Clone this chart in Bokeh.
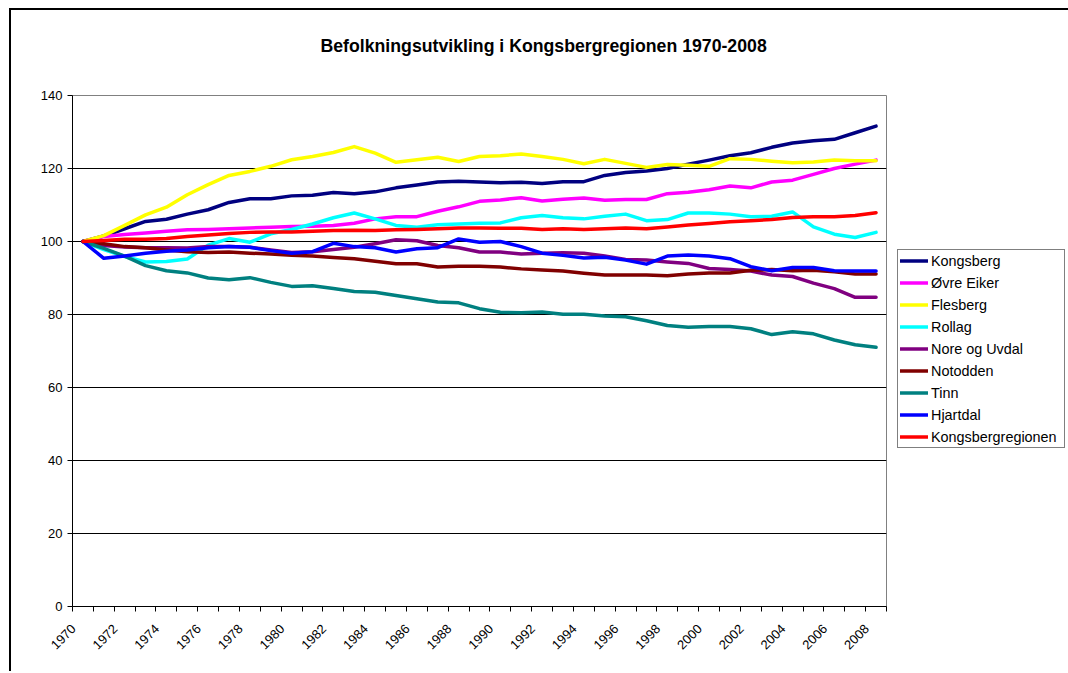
from math import pi
from bokeh.plotting import figure
from bokeh.models import (Range1d, FixedTicker, Legend, LegendItem, InlineStyleSheet,
                          CustomJSTickFormatter)
from bokeh.embed import file_html
from bokeh.resources import INLINE

years = list(range(1970, 2009))

kongsberg = [100, 101.5, 103.5, 105.5, 106.1, 107.5, 108.7, 110.7, 111.7, 111.7,
             112.5, 112.7, 113.4, 113.1, 113.6, 114.7, 115.5, 116.3, 116.5, 116.3,
             116.1, 116.2, 115.9, 116.4, 116.4, 118.1, 118.9, 119.3, 120.0, 121.2,
             122.3, 123.5, 124.3, 125.8, 127.0, 127.6, 128.0, 129.8, 131.6]
ovre_eiker = [100, 101.4, 101.9, 102.3, 102.8, 103.2, 103.3, 103.5, 103.7, 103.9,
              104.1, 104.2, 104.4, 105.0, 106.2, 106.8, 106.8, 108.3, 109.5, 111.0,
              111.4, 112.0, 111.1, 111.6, 111.9, 111.3, 111.5, 111.5, 113.1, 113.5,
              114.2, 115.2, 114.7, 116.3, 116.8, 118.4, 120.0, 121.2, 122.3]
flesberg = [100, 101.6, 104.4, 107.3, 109.4, 112.8, 115.6, 118.1, 119.2, 120.6,
            122.4, 123.3, 124.4, 126.0, 124.2, 121.7, 122.4, 123.1, 121.9, 123.3,
            123.5, 124.0, 123.3, 122.5, 121.3, 122.5, 121.4, 120.3, 121.1, 120.9,
            120.6, 122.7, 122.5, 122.0, 121.6, 121.8, 122.3, 122.1, 122.1]
rollag = [100, 97.8, 95.9, 94.4, 94.5, 95.2, 99.0, 100.8, 99.8, 102.1,
          103.3, 104.8, 106.5, 107.8, 106.2, 104.4, 103.9, 104.6, 104.8, 105.0,
          105.1, 106.5, 107.1, 106.5, 106.2, 106.9, 107.5, 105.7, 106.0, 107.8,
          107.8, 107.5, 106.8, 106.9, 108.1, 104.0, 102.0, 101.1, 102.5]
nore_og_uvdal = [100, 98.9, 98.5, 98.3, 98.3, 98.2, 98.6, 98.6, 98.4, 97.7,
                 97.0, 97.2, 97.8, 98.4, 99.4, 100.5, 100.2, 98.9, 98.3, 97.1,
                 97.1, 96.6, 96.8, 96.9, 96.8, 96.0, 95.1, 94.9, 94.4, 94.0,
                 92.6, 92.3, 91.9, 90.8, 90.4, 88.6, 87.1, 84.7, 84.7]
notodden = [100, 99.4, 98.6, 98.3, 97.7, 97.2, 97.0, 97.1, 96.8, 96.6,
            96.2, 96.0, 95.6, 95.3, 94.6, 93.9, 93.9, 93.0, 93.2, 93.2,
            93.0, 92.5, 92.2, 91.9, 91.3, 90.8, 90.8, 90.8, 90.6, 91.1,
            91.4, 91.4, 92.1, 92.3, 92.0, 92.1, 91.7, 91.1, 91.1]
tinn = [100, 98.1, 96.0, 93.4, 92.0, 91.4, 90.0, 89.5, 90.1, 88.8,
        87.7, 87.9, 87.1, 86.3, 86.1, 85.2, 84.3, 83.4, 83.2, 81.6,
        80.6, 80.5, 80.7, 80.1, 80.1, 79.6, 79.4, 78.3, 77.0, 76.5,
        76.7, 76.7, 76.1, 74.5, 75.3, 74.7, 73.0, 71.7, 71.0]
hjartdal = [100, 95.4, 96.0, 96.8, 97.3, 97.7, 98.3, 98.6, 98.4, 97.5,
            96.8, 97.2, 99.5, 98.6, 98.3, 97.1, 98.0, 98.3, 100.7, 99.8,
            100.0, 98.6, 96.8, 96.2, 95.5, 95.7, 94.9, 93.8, 96.0, 96.3,
            96.0, 95.3, 93.1, 92.0, 92.9, 92.9, 92.0, 91.9, 91.9]
kongsbergregionen = [100, 100.3, 100.6, 100.6, 100.8, 101.4, 101.8, 102.2, 102.5, 102.6,
                     102.6, 102.8, 103.0, 103.1, 103.0, 103.2, 103.3, 103.5, 103.7, 103.7,
                     103.6, 103.6, 103.3, 103.5, 103.3, 103.5, 103.7, 103.5, 104.0, 104.5,
                     104.9, 105.4, 105.7, 106.0, 106.6, 106.8, 106.8, 107.1, 107.9]

series_names = ["Kongsberg", "Øvre Eiker", "Flesberg", "Rollag", "Nore og Uvdal",
                "Notodden", "Tinn", "Hjartdal", "Kongsbergregionen"]
series_values = [kongsberg, ovre_eiker, flesberg, rollag, nore_og_uvdal,
                 notodden, tinn, hjartdal, kongsbergregionen]
series_colors = ["#000080", "#FF00FF", "#FFFF00", "#00FFFF", "#800080",
                 "#800000", "#008080", "#0000FF", "#FF0000"]

y_ticks = [0, 20, 40, 60, 80, 100, 120, 140]
x_label_years = list(range(1970, 2009, 2))
title_text = "Befolkningsutvikling i Kongsbergregionen 1970-2008"

FONT = "Liberation Sans"
LABEL_SHIFT = 0.45   # rotated labels sit slightly left of the category centre (Excel style)

p = figure(frame_width=814, frame_height=511,
           min_border_left=72, min_border_right=180,
           min_border_top=95, min_border_bottom=65,
           x_range=Range1d(years[0] - 0.5, years[-1] + 0.5),
           y_range=Range1d(y_ticks[0], y_ticks[-1]),
           output_backend="svg", toolbar_location=None)

p.outline_line_color = "#808080"
p.outline_line_width = 1
p.background_fill_color = "white"
p.border_fill_color = "white"
p.stylesheets = [InlineStyleSheet(css=(
    ":host { position: relative; }"
    ":host::after { content: ''; position: absolute; left: 9px; top: 8px; right: 6px; bottom: 0px;"
    " border: 2px solid black; border-bottom: none; pointer-events: none; z-index: 50; }"))]

p.title.text = title_text + "\n"
p.title.align = "left"
p.title.offset = 248
p.title.standoff = 40
p.title.text_font = FONT
p.title.text_font_size = "17.7px"
p.title.text_font_style = "bold"
p.title.text_color = "black"

# x axis: category boundaries as tick marks, every other year labelled
xt = FixedTicker(ticks=[y - LABEL_SHIFT for y in x_label_years],
                 minor_ticks=[y - 0.5 for y in years] + [years[-1] + 0.5])
p.xaxis.ticker = xt
p.xaxis.formatter = CustomJSTickFormatter(args=dict(shift=LABEL_SHIFT),
                                          code="return String(Math.round(tick + shift));")
p.xaxis.major_tick_line_color = None
p.xaxis.major_tick_out = 0
p.xaxis.major_tick_in = 0
p.xaxis.minor_tick_line_color = "black"
p.xaxis.minor_tick_out = 5
p.xaxis.minor_tick_in = 0
p.xaxis.axis_line_color = "black"
p.xaxis.major_label_orientation = pi / 4
p.xaxis.major_label_text_font = FONT
p.xaxis.major_label_text_font_size = "13px"
p.xaxis.major_label_text_color = "black"
p.xaxis.major_label_standoff = 15
p.xgrid.visible = False

yt = FixedTicker(ticks=y_ticks, minor_ticks=[])
p.yaxis.ticker = yt
p.ygrid.ticker = yt
p.yaxis.axis_line_color = "black"
p.yaxis.major_tick_line_color = "black"
p.yaxis.major_tick_out = 5
p.yaxis.major_tick_in = 0
p.yaxis.minor_tick_line_color = None
p.yaxis.major_label_text_font = FONT
p.yaxis.major_label_text_font_size = "13px"
p.yaxis.major_label_text_color = "black"
p.yaxis.major_label_standoff = 5
p.ygrid.grid_line_color = "black"
p.ygrid.grid_line_width = 1

items = []
for name, vals, col in zip(series_names, series_values, series_colors):
    r = p.line(years, vals, line_color=col, line_width=3.5,
               line_join="round", line_cap="round")
    items.append(LegendItem(label=name, renderers=[r]))

legend = Legend(items=items, location=(11, 158))
legend.border_line_color = "black"
legend.border_line_width = 1
legend.background_fill_color = "white"
legend.background_fill_alpha = 1
legend.label_text_font = FONT
legend.label_text_font_size = "14.4px"
legend.label_text_color = "black"
legend.glyph_width = 28
legend.glyph_height = 17
legend.label_height = 17
legend.label_width = 131
legend.spacing = 5
legend.padding = 2
legend.margin = 0
legend.label_standoff = 3
p.add_layout(legend, "right")

open("out.html", "w").write(file_html(p, INLINE))
